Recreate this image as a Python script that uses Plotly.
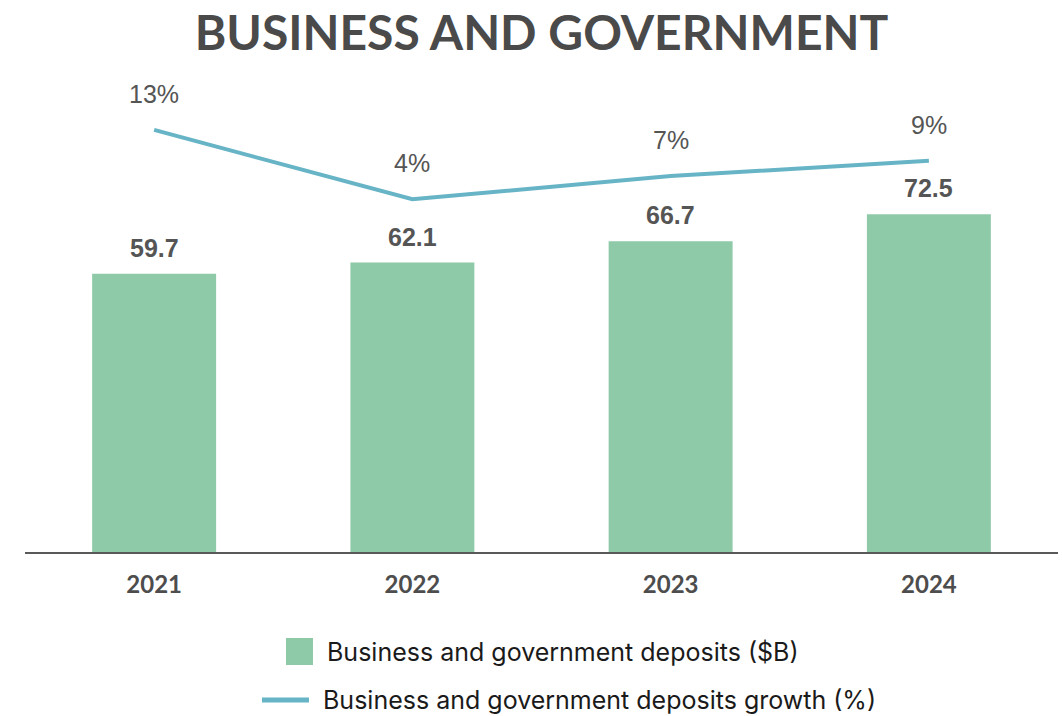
import plotly.graph_objects as go

# Data
years = ["2021", "2022", "2023", "2024"]
deposits = [59.7, 62.1, 66.7, 72.5]          # $B
growth = [13, 4, 7, 9]                      # %

BAR_COLOR = "#8fcaa8"
LINE_COLOR = "#67b4c6"
LABEL_COLOR = "#555555"

W, H = 1062, 716
ML, MR, MT, MB = 25, 4, 90, 164
PW, PH = W - ML - MR, H - MT - MB


def px_x(x):
    return (x - ML) / PW


def px_y(y):
    return (H - MB - y) / PH


fig = go.Figure()

fig.add_trace(go.Bar(
    x=years, y=deposits, name="Business and government deposits ($B)",
    marker=dict(color=BAR_COLOR, line=dict(width=0)),
    showlegend=False, hoverinfo="skip",
))

fig.add_trace(go.Scatter(
    x=years, y=growth, name="Business and government deposits growth (%)",
    mode="lines", line=dict(color=LINE_COLOR, width=4),
    yaxis="y2", showlegend=False, hoverinfo="skip",
))

annotations = []
# category axis: annotations are positioned by category index
for i, v in enumerate(deposits):
    annotations.append(dict(
        x=i, y=v, xref="x", yref="y", text=f"{v:.1f}", showarrow=False,
        yanchor="middle", yshift=26,
        font=dict(family="Liberation Sans, Arial", size=25, color=LABEL_COLOR, weight="bold"),
    ))
for i, g in enumerate(growth):
    annotations.append(dict(
        x=i, y=g, xref="x", yref="y2", text=f"{g}%", showarrow=False,
        yanchor="middle", yshift=36,
        font=dict(family="Liberation Sans, Arial", size=25, color=LABEL_COLOR),
    ))

# Legend drawn below the axis
legend_font = dict(family="Inter", size=25, color="#1a1a1a")
annotations.append(dict(
    x=px_x(325), y=px_y(652), xref="paper", yref="paper", xanchor="left", yanchor="middle",
    text="Business and government deposits ($B)", showarrow=False, font=legend_font,
))
annotations.append(dict(
    x=px_x(321), y=px_y(700), xref="paper", yref="paper", xanchor="left", yanchor="middle",
    text="Business and government deposits growth (%)", showarrow=False, font=legend_font,
))

shapes = [
    dict(type="rect", xref="paper", yref="paper",
         x0=px_x(286), x1=px_x(313), y0=px_y(665), y1=px_y(638),
         fillcolor=BAR_COLOR, line=dict(width=0)),
    dict(type="line", xref="paper", yref="paper",
         x0=px_x(262), x1=px_x(309), y0=px_y(700), y1=px_y(700),
         line=dict(color=LINE_COLOR, width=5)),
]

fig.update_layout(
    width=W, height=H,
    margin=dict(l=ML, r=MR, t=MT, b=MB),
    paper_bgcolor="white", plot_bgcolor="white",
    bargap=0.52,
    title=dict(
        text="BUSINESS AND GOVERNMENT", x=0.5, xref="paper", xanchor="center",
        y=1 - 33 / H, yref="container", yanchor="middle",
        font=dict(family="Lato", size=48, color="#4a4a4a", weight="bold"),
    ),
    xaxis=dict(
        type="category",
        showline=True, linecolor="#595959", linewidth=2, showgrid=False,
        ticks="", ticklabelstandoff=10,
        tickfont=dict(family="Lato", size=24, color="#4d4d4d", weight="bold"),
        range=[-0.5, 3.5], fixedrange=True,
    ),
    yaxis=dict(range=[0, PH / 4.66], visible=False, showgrid=False, zeroline=False),
    yaxis2=dict(range=[-(H - MB - 230) / 7.7, (230 - MT) / 7.7], overlaying="y",
                visible=False, showgrid=False, zeroline=False),
    annotations=annotations,
    shapes=shapes,
    showlegend=False,
)

fig.write_html("out.html")
